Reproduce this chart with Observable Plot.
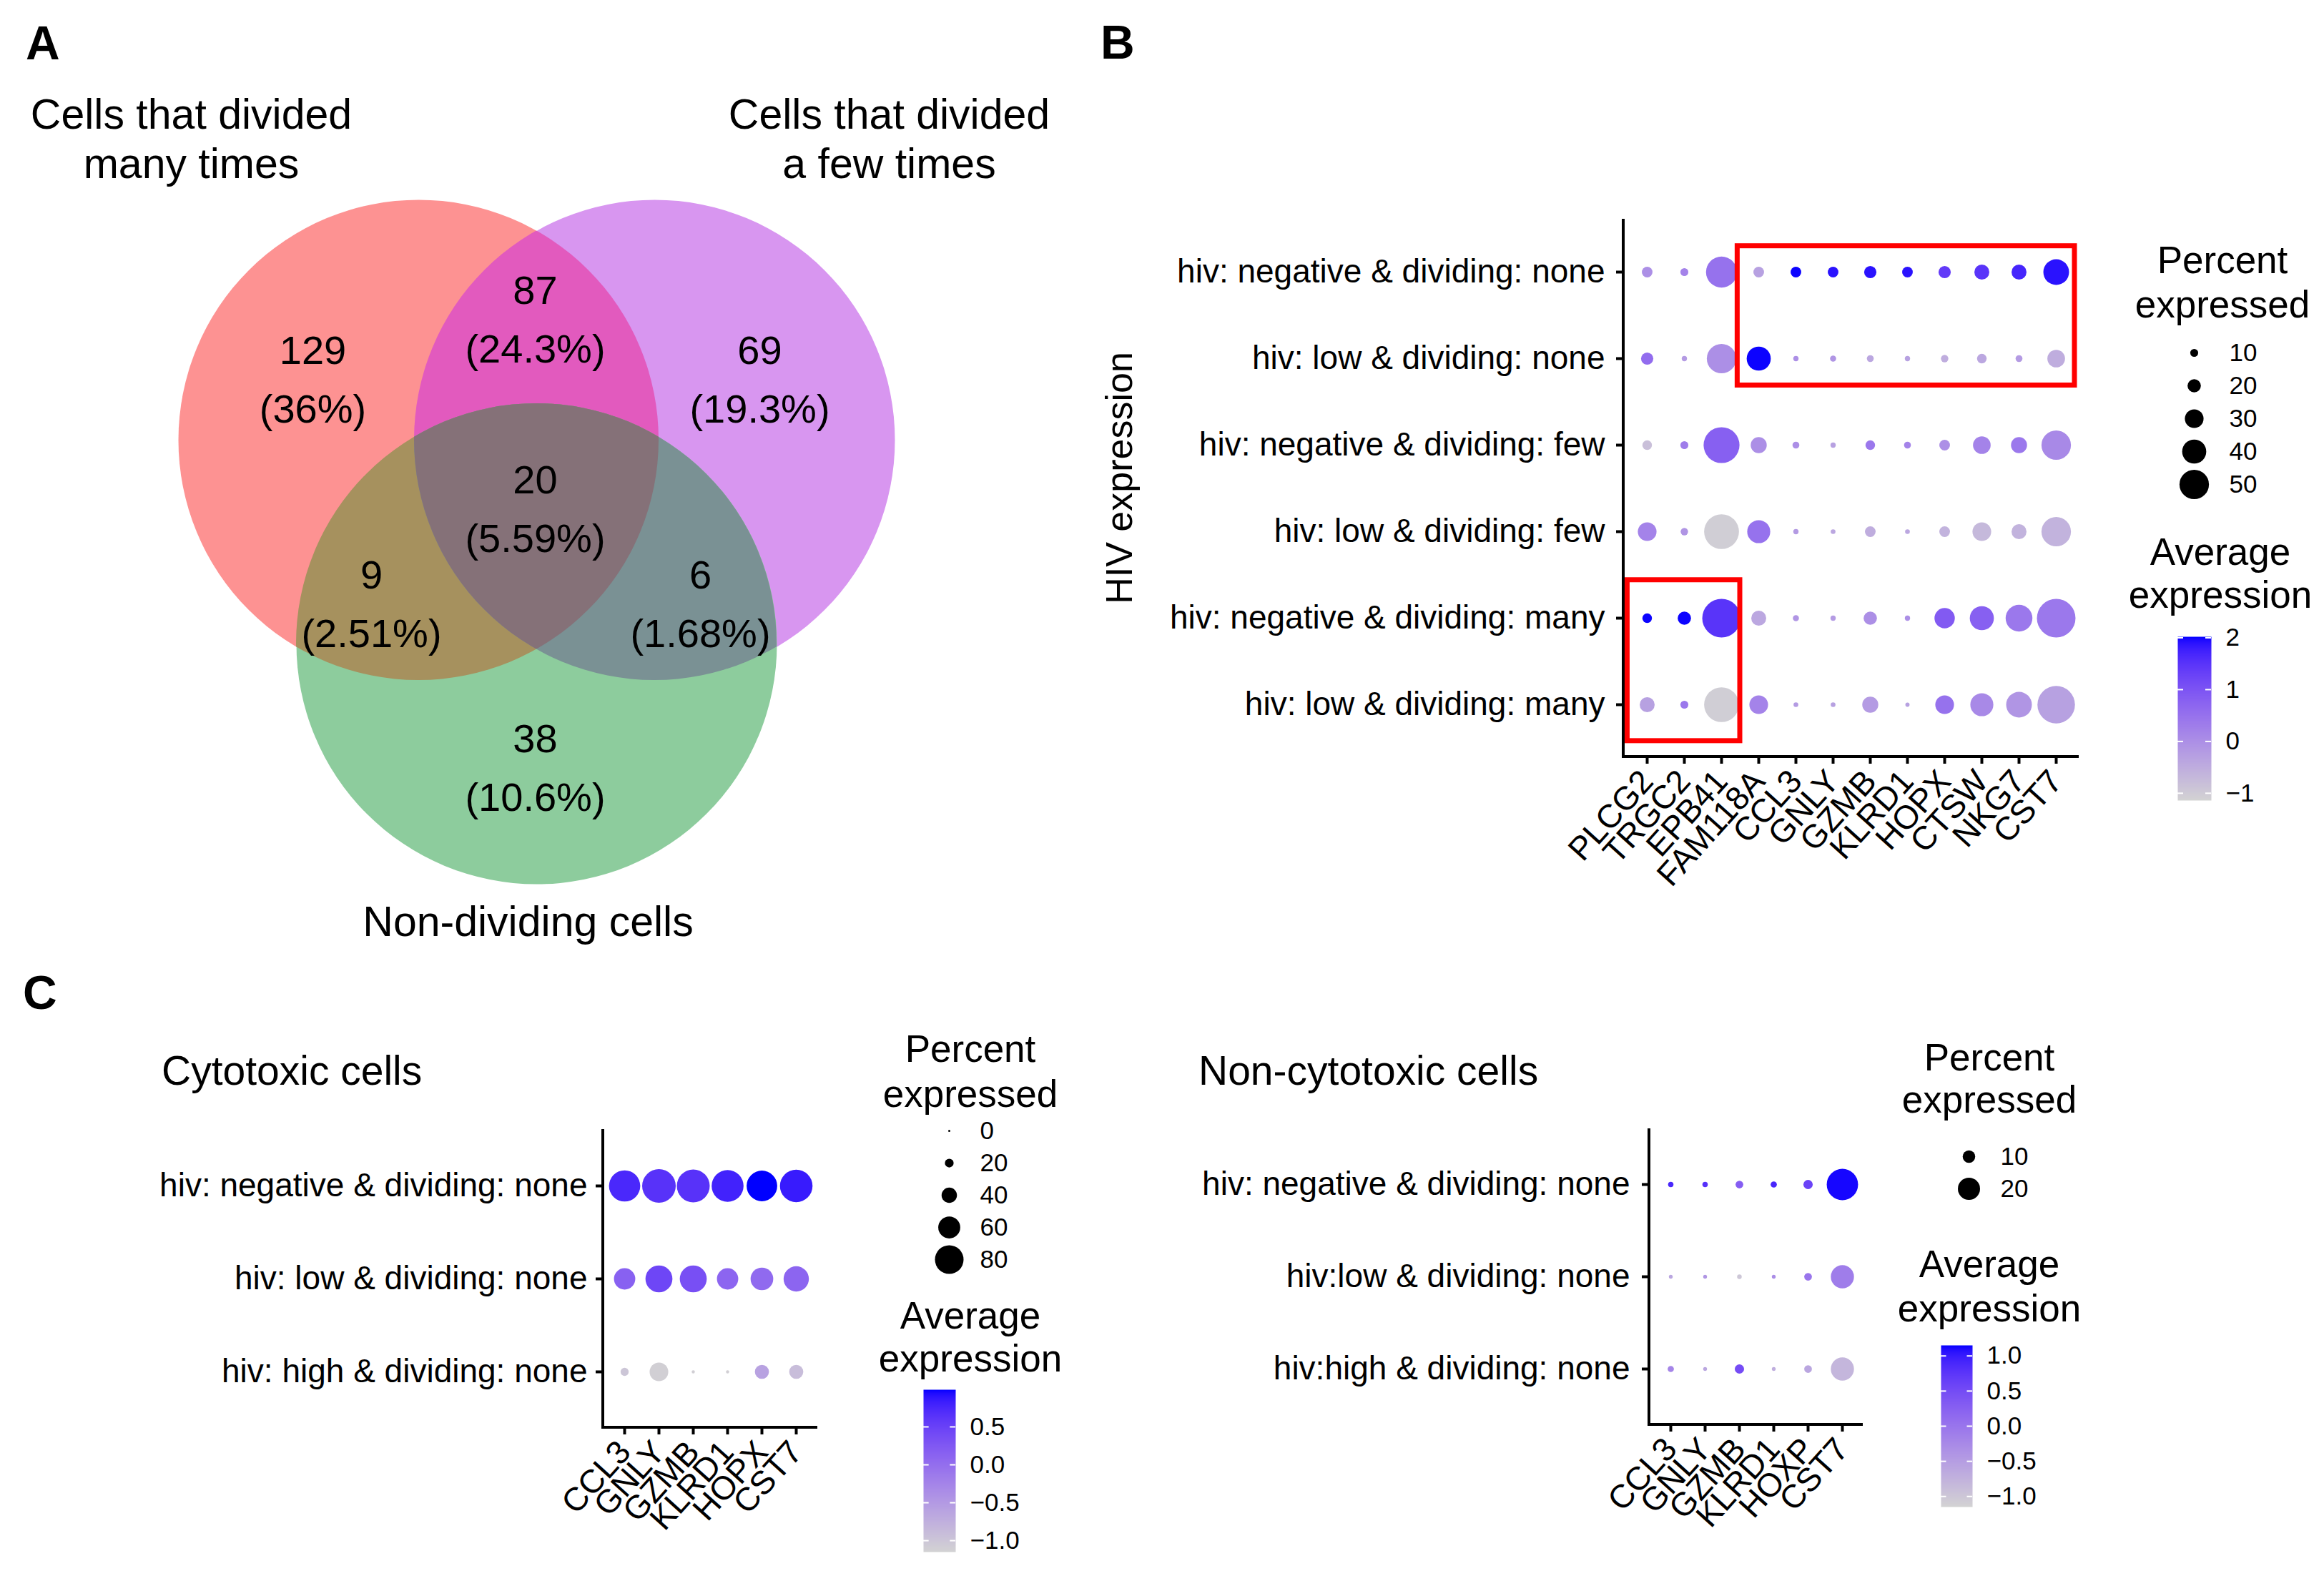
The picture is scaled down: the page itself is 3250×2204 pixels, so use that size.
<!DOCTYPE html>
<html>
<head>
<meta charset="utf-8">
<script src="https://cdn.jsdelivr.net/npm/d3@7"></script>
<script src="https://cdn.jsdelivr.net/npm/@observablehq/plot@0.6"></script>
<style>
html, body { margin: 0; padding: 0; background: #fff; }
#fig { position: relative; width: 3250px; height: 2204px; background: #fff; overflow: hidden;
  font-family: Arial, "Liberation Sans", Helvetica, sans-serif; color: #000; }
.slot { position: absolute; }
.slot svg { max-width: none !important; display: block; }
.lbl { position: absolute; line-height: 1; white-space: nowrap; }
.ttl { position: absolute; line-height: 1; white-space: nowrap; transform: translateX(-50%); }
</style>
</head>
<body>
<div id="fig"></div>
<script>
// ---------------- DATA ----------------
// Panel A: Venn diagram
const vennSetTitles = [["Cells that divided", "many times"], ["Cells that divided", "a few times"], ["Non-dividing cells"]];
const vennRegionKeys = ["many", "few", "none", "many+few", "many+none", "few+none", "all"];
const vennCounts = [129, 69, 38, 87, 9, 6, 20];
const vennPercents = ["36%", "19.3%", "10.6%", "24.3%", "2.51%", "1.68%", "5.59%"];

// Panel B
const genesB = ["PLCG2", "TRGC2", "EPB41", "FAM118A", "CCL3", "GNLY", "GZMB", "KLRD1", "HOPX", "CTSW", "NKG7", "CST7"];
const groupsB = ["hiv: negative & dividing: none", "hiv: low & dividing: none", "hiv: negative & dividing: few",
  "hiv: low & dividing: few", "hiv: negative & dividing: many", "hiv: low & dividing: many"];
const pctB = [
  [15, 10, 53, 15, 15, 15, 18, 15, 18, 23, 23, 43],
  [18, 5, 50, 40, 5, 6.5, 8, 5, 9, 13, 8, 28],
  [13, 10, 62, 25, 8, 5, 13, 8, 15, 28, 25, 50],
  [30, 9, 60, 38, 5, 4, 15, 4, 15, 30, 23, 50],
  [13, 20, 67, 23, 6.5, 5, 20, 5, 33, 40, 45, 67],
  [23, 10, 60, 30, 4, 4, 25, 3, 30, 38, 43, 65]
];
const avgB = [
  [0.0, 0.2, 0.5, -0.3, 2.0, 1.9, 1.9, 1.9, 1.4, 1.5, 1.7, 1.9],
  [0.6, -0.2, 0.0, 2.0, 0.0, -0.1, -0.4, -0.3, -0.5, -0.4, -0.2, -0.5],
  [-0.8, 0.3, 0.8, 0.0, 0.0, -0.3, 0.4, 0.2, 0.0, 0.2, 0.4, 0.1],
  [0.2, -0.1, -1.05, 0.5, -0.2, -0.4, -0.5, -0.4, -0.6, -0.7, -0.6, -0.6],
  [2.0, 2.0, 1.5, -0.4, -0.1, -0.2, 0.0, 0.0, 0.9, 0.8, 0.4, 0.4],
  [-0.3, 0.4, -1.05, 0.2, -0.2, -0.3, -0.2, -0.3, 0.5, 0.1, -0.1, -0.3]
];
const boxGenesB = [["FAM118A", "CST7"], ["PLCG2", "EPB41"]];
const boxGroupsB = [[groupsB[0], groupsB[1]], [groupsB[4], groupsB[5]]];
const sizeTicksB = [10, 20, 30, 40, 50];
const colorTicksB = [2, 1, 0, -1];
const colorDomainB = [-1.14, 2.02];

// Panel C left: cytotoxic cells
const genesCyto = ["CCL3", "GNLY", "GZMB", "KLRD1", "HOPX", "CST7"];
const groupsCyto = ["hiv: negative & dividing: none", "hiv: low & dividing: none", "hiv: high & dividing: none"];
const pctCyto = [
  [88, 95, 93, 90, 86, 92],
  [58, 75, 75, 58, 62, 70],
  [18, 50, 3, 3, 36, 36]
];
const avgCyto = [
  [0.75, 0.65, 0.65, 0.8, 0.99, 0.85],
  [0.15, 0.45, 0.35, 0.1, 0.05, 0.1],
  [-1.0, -1.1, -1.1, -1.1, -0.6, -0.9]
];
const sizeTicksCyto = [0, 20, 40, 60, 80];
const colorTicksCyto = [0.5, 0.0, -0.5, -1.0];
const colorDomainCyto = [-1.15, 0.99];

// Panel C right: non-cytotoxic cells
const genesNon = ["CCL3", "GNLY", "GZMB", "KLRD1", "HOXP", "CST7"];
const groupsNon = ["hiv: negative & dividing: none", "hiv:low & dividing: none", "hiv:high & dividing: none"];
const pctNon = [
  [2.6, 2.6, 5, 3.5, 6.7, 29.5],
  [1, 1, 1.8, 1, 5, 21],
  [3.5, 1, 6.7, 1, 5, 21]
];
const avgNon = [
  [0.9, 0.8, 0.3, 0.9, 0.6, 1.12],
  [-0.6, -0.4, -1.0, -0.3, 0.0, -0.1],
  [-0.2, -0.6, 0.5, -0.7, -0.6, -0.8]
];
const sizeTicksNon = [10, 20];
const colorTicksNon = [1.0, 0.5, 0.0, -0.5, -1.0];
const colorDomainNon = [-1.15, 1.15];

// ---------------- LAYOUT / STYLE ----------------
const FONT = 'Arial, "Liberation Sans", Helvetica, sans-serif';
const fig = document.getElementById("fig");
function place(node, left, top) {
  const d = document.createElement("div");
  d.className = "slot";
  d.style.left = left + "px"; d.style.top = top + "px";
  d.appendChild(node); fig.appendChild(d);
}
function label(text, left, top, size, opts = {}) {
  const d = document.createElement("div");
  d.className = opts.center ? "ttl" : "lbl";
  d.textContent = text;
  d.style.left = left + "px"; d.style.top = top + "px";
  d.style.fontSize = size + "px";
  if (opts.bold) d.style.fontWeight = "bold";
  fig.appendChild(d);
}
const baseStyle = {fontFamily: FONT, background: "transparent", overflow: "visible", color: "black"};

// ---------- Panel A: Venn ----------
const vennGeom = {
  W: 1500, H: 1360, R: 336,
  centers: [[585, 615], [915, 615], [750, 900]],
  fills: ["#fd9292", "#d896f0", "#8dcc9d"],
  pairFills: {"0-1": "#e25abe", "0-2": "#a6915e", "1-2": "#7a9194"},
  tripleFill: "#857178",
  labelPos: [[437, 532], [1062, 532], [748, 1075], [748, 448], [519, 846], [979, 846], [748, 713]],
  titlePos: [[[267, 161], [267, 230]], [[1243, 161], [1243, 230]], [[738, 1290]]]
};
const vennCircles = vennSetTitles.map((t, i) => ({set: t.join(" "), x: vennGeom.centers[i][0], y: vennGeom.centers[i][1], fill: vennGeom.fills[i]}));
const vennLabels = vennRegionKeys.map((k, i) => ({key: k, count: vennCounts[i], pct: vennPercents[i], x: vennGeom.labelPos[i][0], y: vennGeom.labelPos[i][1]}));
const vennTitles = vennSetTitles.flatMap((lines, i) => lines.map((line, j) => ({text: line, x: vennGeom.titlePos[i][j][0], y: vennGeom.titlePos[i][j][1]})));

function vennOverlaps(circles) {
  return (index, scales) => {
    const g = d3.create("svg:g");
    const defs = g.append("defs");
    const R = vennGeom.R;
    circles.forEach((c, i) => {
      defs.append("clipPath").attr("id", "vclip" + i)
        .append("circle").attr("cx", scales.x(c.x)).attr("cy", scales.y(c.y)).attr("r", R);
    });
    const pairs = [[0, 1], [0, 2], [1, 2]];
    for (const [a, b] of pairs) {
      g.append("g").attr("clip-path", `url(#vclip${b})`)
        .append("circle").attr("cx", scales.x(circles[a].x)).attr("cy", scales.y(circles[a].y)).attr("r", R)
        .attr("fill", vennGeom.pairFills[`${a}-${b}`]);
    }
    g.append("g").attr("clip-path", "url(#vclip1)")
      .append("g").attr("clip-path", "url(#vclip2)")
      .append("circle").attr("cx", scales.x(circles[0].x)).attr("cy", scales.y(circles[0].y)).attr("r", R)
      .attr("fill", vennGeom.tripleFill);
    return g.node();
  };
}

const venn = Plot.plot({
  width: vennGeom.W, height: vennGeom.H, margin: 0,
  style: baseStyle,
  x: {domain: [0, vennGeom.W], range: [0, vennGeom.W], axis: null},
  y: {domain: [0, vennGeom.H], range: [0, vennGeom.H], axis: null},
  marks: [
    Plot.dot(vennCircles, {x: "x", y: "y", r: vennGeom.R, fill: "fill", stroke: null}),
    vennOverlaps(vennCircles),
    Plot.text(vennLabels, {x: "x", y: "y", text: d => String(d.count), dy: -41, fontSize: 56, fill: "black"}),
    Plot.text(vennLabels, {x: "x", y: "y", text: d => `(${d.pct})`, dy: 41, fontSize: 56, fill: "black"}),
    Plot.text(vennTitles, {x: "x", y: "y", text: "text", fontSize: 59, fill: "black"})
  ]
});
place(venn, 0, 0);
label("A", 36, 27, 66, {bold: true});

// ---------- dot plot helper ----------
function axisLines() {
  return (index, scales, values, dims) => {
    const {width, height, marginLeft, marginRight, marginTop, marginBottom} = dims;
    return d3.create("svg:path")
      .attr("d", `M${marginLeft},${marginTop}V${height - marginBottom}H${width - marginRight}`)
      .attr("fill", "none").attr("stroke", "black").attr("stroke-width", 4)
      .node();
  };
}
function dotPlot(cfg) {
  const rows = [];
  cfg.groups.forEach((g, i) => cfg.genes.forEach((gene, j) =>
    rows.push({group: g, gene, pct: cfg.pct[i][j], avg: cfg.avg[i][j]})));
  return Plot.plot({
    width: cfg.width, height: cfg.height,
    marginLeft: cfg.margins[0], marginTop: cfg.margins[1], marginRight: cfg.margins[2], marginBottom: cfg.margins[3],
    style: baseStyle,
    x: {type: "point", domain: cfg.genes, padding: 0.6, label: null},
    y: {type: "point", domain: cfg.groups, padding: 0.6, label: null},
    r: {type: "linear", domain: cfg.rDomain, range: cfg.rRange},
    color: {type: "linear", domain: cfg.colorDomain, range: ["lightgrey", "blue"], interpolate: "lab"},
    marks: [
      Plot.axisY({fontSize: cfg.fontSize, tickSize: 10, tickPadding: cfg.padY, strokeWidth: 4, label: null, fill: "black", stroke: "black"}),
      Plot.axisX({fontSize: cfg.fontSize, tickSize: 10, tickPadding: cfg.padX, strokeWidth: 4, tickRotate: -48, label: null, fill: "black", stroke: "black"}),
      axisLines(),
      Plot.dot(rows, {x: "gene", y: "group", r: "pct", fill: "avg", stroke: null}),
      ...(cfg.extra || [])
    ]
  });
}
function sizeLegend(ticks, rDomain, rRange, dotX, labelDX, y0, step) {
  const pad = 40, W = 220, dx = 40;
  const p = Plot.plot({
    width: W, height: (ticks.length - 1) * step + 2 * pad, margin: 0,
    style: baseStyle,
    x: {domain: [0, W], range: [0, W], axis: null},
    y: {type: "point", domain: ticks, range: [pad, pad + (ticks.length - 1) * step], padding: 0, axis: null},
    r: {type: "linear", domain: rDomain, range: rRange},
    marks: [
      Plot.dot(ticks, {x: () => dx, y: d => d, r: d => d, fill: "black", stroke: null}),
      Plot.text(ticks, {x: () => dx + labelDX, y: d => d, text: d => String(d), textAnchor: "start", fontSize: 35, fill: "black"})
    ]
  });
  place(p, dotX - dx, y0 - pad);
}
function colorBar(domain, ticks, fmt, x, top, w, h) {
  const padT = 30, padB = 30, padR = 140;
  const p = Plot.plot({
    width: w + padR, height: h + padT + padB,
    marginLeft: 0, marginRight: padR, marginTop: padT, marginBottom: padB,
    style: baseStyle,
    x: {domain: [0, 1], axis: null},
    y: {domain, axis: null},
    color: {type: "linear", domain, range: ["lightgrey", "blue"], interpolate: "lab"},
    marks: [
      Plot.raster({x1: 0, x2: 1, y1: domain[0], y2: domain[1], width: 2, height: 400, fill: (px, py) => py, imageRendering: "auto"}),
      Plot.ruleY(ticks, {y: d => d, x1: 0, x2: 0.17, stroke: "white", strokeWidth: 2}),
      Plot.ruleY(ticks, {y: d => d, x1: 0.83, x2: 1, stroke: "white", strokeWidth: 2}),
      Plot.text(ticks, {x: 1, y: d => d, text: fmt, dx: 20, textAnchor: "start", fontSize: 35, fill: "black"})
    ]
  });
  place(p, x, top - padT);
}

// ---------- Panel B ----------
function redBoxes() {
  return (index, scales) => {
    const g = d3.create("svg:g");
    const sx = scales.x, sy = scales.y;
    const stepX = sx(genesB[1]) - sx(genesB[0]);
    const stepY = sy(groupsB[1]) - sy(groupsB[0]);
    const pads = [[0.57, 0.5, 0.3, 0.31], [0.53, 0.5, 0.44, 0.42]];
    boxGenesB.forEach((gs, i) => {
      const [pl, pr, pt, pb] = pads[i];
      const x1 = sx(gs[0]) - pl * stepX, x2 = sx(gs[1]) + pr * stepX;
      const y1 = sy(boxGroupsB[i][0]) - pt * stepY, y2 = sy(boxGroupsB[i][1]) + pb * stepY;
      g.append("rect").attr("x", x1).attr("y", y1).attr("width", x2 - x1).attr("height", y2 - y1)
        .attr("fill", "none").attr("stroke", "#ff0000").attr("stroke-width", 7);
    });
    return g.node();
  };
}
const rRangeB = [1.8, 20.6];
const plotB = dotPlot({
  genes: genesB, groups: groupsB, pct: pctB, avg: avgB,
  width: 1400, height: 1000, margins: [730, 26, 33, 222], fontSize: 46, padY: 16, padX: 16,
  rDomain: [0, 50], rRange: rRangeB, colorDomain: colorDomainB,
  extra: [
    redBoxes(),
    Plot.text(["HIV expression"], {frameAnchor: "left", dx: -704, dy: -14, rotate: -90, textAnchor: "middle", text: d => d, fontSize: 52, fill: "black"})
  ]
});
place(plotB, 1540, 280);
label("B", 1539, 26, 66, {bold: true});
label("Percent", 3108, 337, 53, {center: true});
label("expressed", 3108, 399, 53, {center: true});
sizeLegend(sizeTicksB, [0, 50], rRangeB, 3068, 49, 493, 46);
label("Average", 3105, 745, 53, {center: true});
label("expression", 3105, 805, 53, {center: true});
colorBar(colorDomainB, colorTicksB, d3.format("d"), 3045, 890, 47, 229);

// ---------- Panel C left ----------
const plotCyto = dotPlot({
  genes: genesCyto, groups: groupsCyto, pct: pctCyto, avg: avgCyto,
  width: 1200, height: 668, margins: [843, 39, 57, 212], fontSize: 46, padY: 12, padX: 16,
  rDomain: [0, 80], rRange: [1.5, 20], colorDomain: colorDomainCyto
});
place(plotCyto, 0, 1540);
label("C", 32, 1355, 66, {bold: true});
label("Cytotoxic cells", 226, 1469, 57);
label("Percent", 1357, 1440, 53, {center: true});
label("expressed", 1357, 1503, 53, {center: true});
sizeLegend(sizeTicksCyto, [0, 80], [1.5, 20], 1327, 43, 1580, 45.5);
label("Average", 1357, 1813, 53, {center: true});
label("expression", 1357, 1873, 53, {center: true});
colorBar(colorDomainCyto, colorTicksCyto, d3.format(".1f"), 1291, 1943, 45, 227);

// ---------- Panel C right ----------
const plotNon = dotPlot({
  genes: genesNon, groups: groupsNon, pct: pctNon, avg: avgNon,
  width: 1100, height: 664, margins: [746, 38, 55, 212], fontSize: 46, padY: 17, padX: 16,
  rDomain: [0, 20], rRange: [2, 15.5], colorDomain: colorDomainNon
});
place(plotNon, 1560, 1540);
label("Non-cytotoxic cells", 1676, 1469, 57);
label("Percent", 2782, 1452, 53, {center: true});
label("expressed", 2782, 1511, 53, {center: true});
sizeLegend(sizeTicksNon, [0, 20], [2, 15.5], 2753, 44, 1617, 45);
label("Average", 2782, 1741, 53, {center: true});
label("expression", 2782, 1803, 53, {center: true});
colorBar(colorDomainNon, colorTicksNon, d3.format(".1f"), 2714, 1881, 44, 226);
</script>
</body>
</html>
